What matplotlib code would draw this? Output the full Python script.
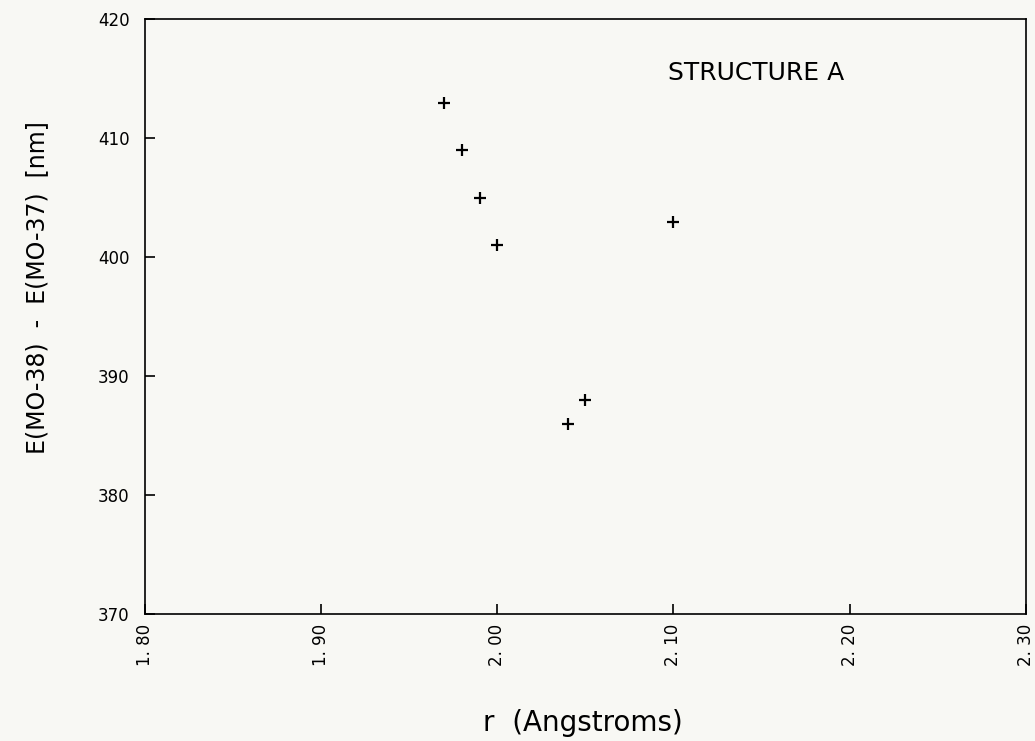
import matplotlib
matplotlib.use('Agg')
import matplotlib.pyplot as plt

# bond length r (Angstroms) vs E(MO-38) - E(MO-37) in nm
r_values = [1.97, 1.98, 1.99, 2.00, 2.04, 2.05, 2.10]
energy_nm = [413, 409, 405, 401, 386, 388, 403]

x_ticks = [1.80, 1.90, 2.00, 2.10, 2.20, 2.30]
x_tick_labels = ['1. 80', '1. 90', '2. 00', '2. 10', '2. 20', '2. 30']
y_ticks = [370, 380, 390, 400, 410, 420]

bg = '#f8f8f4'
fig = plt.figure(figsize=(10.35, 7.41), dpi=100, facecolor=bg)
ax = fig.add_axes([0.140, 0.171, 0.851, 0.803], facecolor=bg)

ax.plot(r_values, energy_nm, linestyle='none', marker='+', color='black',
        markersize=8, markeredgewidth=1.6)

ax.set_xlim(1.80, 2.30)
ax.set_ylim(370, 420)
ax.set_xticks(x_ticks)
ax.set_xticklabels(x_tick_labels, rotation=90, fontsize=12)
ax.set_yticks(y_ticks)
ax.set_yticklabels([str(v) for v in y_ticks], fontsize=12)
ax.tick_params(axis='y', direction='in', length=7, width=1.2, pad=11)
ax.tick_params(axis='x', direction='in', length=7, width=1.2, pad=7)

for s in ax.spines.values():
    s.set_linewidth(1.2)

ax.text(2.097, 415.5, 'STRUCTURE A', fontsize=18, va='center', ha='left')

fig.text(0.563, 0.024, 'r  (Angstroms)', fontsize=20, ha='center', va='center')
fig.text(0.036, 0.612, 'E(MO-38)  -  E(MO-37)  [nm]', fontsize=17,
         rotation=90, ha='center', va='center')

fig.savefig('out.png', dpi=100, facecolor=bg)
